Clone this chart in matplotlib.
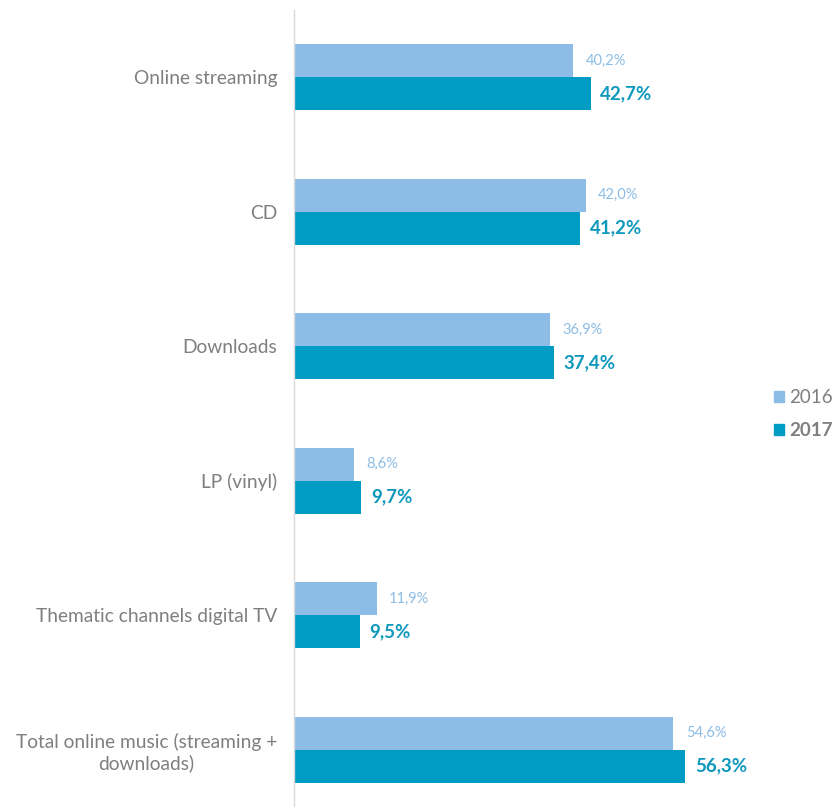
import matplotlib
matplotlib.use("Agg")
import matplotlib.pyplot as plt
from matplotlib.patches import Patch
import numpy as np

plt.rcParams['font.family'] = ['Lato', 'DejaVu Sans']

# Data
categories = [
    "Online streaming",
    "CD",
    "Downloads",
    "LP (vinyl)",
    "Thematic channels digital TV",
    "Total online music (streaming +\ndownloads)",
]
share_2016 = [40.2, 42.0, 36.9, 8.6, 11.9, 54.6]
share_2017 = [42.7, 41.2, 37.4, 9.7, 9.5, 56.3]
series_names = ["2016", "2017"]

COLOR_2016 = '#8DBDE6'
COLOR_2017 = '#009CC3'
LABEL_2017 = '#0E98BC'
GRAY = '#7F7F7F'


def fmt(v):
    return f"{v:.1f}%".replace('.', ',')


fig = plt.figure(figsize=(8.37, 8.07), dpi=100)
W, H = 837, 807
left_px, right_px, top_px, bottom_px = 294, 750, 10, 817
ax = fig.add_axes([left_px / W, 1 - bottom_px / H,
                   (right_px - left_px) / W, (bottom_px - top_px) / H])

y = np.arange(len(categories))
h = 0.245
bars16 = ax.barh(y - h / 2, share_2016, height=h, color=COLOR_2016, label=series_names[0])
bars17 = ax.barh(y + h / 2, share_2017, height=h, color=COLOR_2017, label=series_names[1])

for b, v in zip(bars16, share_2016):
    ax.annotate(fmt(v), (b.get_width(), b.get_y() + b.get_height() / 2),
                xytext=(9, 0), textcoords='offset points', va='center', ha='left',
                fontsize=10.5, color=COLOR_2016)
for b, v in zip(bars17, share_2017):
    ax.annotate(fmt(v), (b.get_width(), b.get_y() + b.get_height() / 2),
                xytext=(7, 0), textcoords='offset points', va='center', ha='left',
                fontsize=13.5, fontweight='bold', color=LABEL_2017)

ax.set_xlim(0, (right_px - left_px) / 6.945)
ax.set_ylim(len(categories) - 0.5, -0.5)
ax.set_yticks(y)
ax.set_yticklabels(categories, fontsize=13.8, color=GRAY, multialignment='center')
ax.tick_params(axis='y', length=0, pad=12)
ax.set_xticks([])

for s in ['top', 'right', 'bottom']:
    ax.spines[s].set_visible(False)
ax.spines['left'].set_color('#D9D9D9')
ax.spines['left'].set_linewidth(1)

handles = [Patch(color=COLOR_2016), Patch(color=COLOR_2017)]
leg = fig.legend(handles, series_names, loc='center left', bbox_to_anchor=(768 / W, 1 - 414 / H),
                 frameon=False, fontsize=13.5, handlelength=0.55, handleheight=0.55,
                 handletextpad=0.3, labelspacing=0.85, labelcolor=GRAY, borderaxespad=0,
                 borderpad=0.3)
leg.get_texts()[1].set_fontweight('bold')

fig.savefig("out.png", dpi=100)
